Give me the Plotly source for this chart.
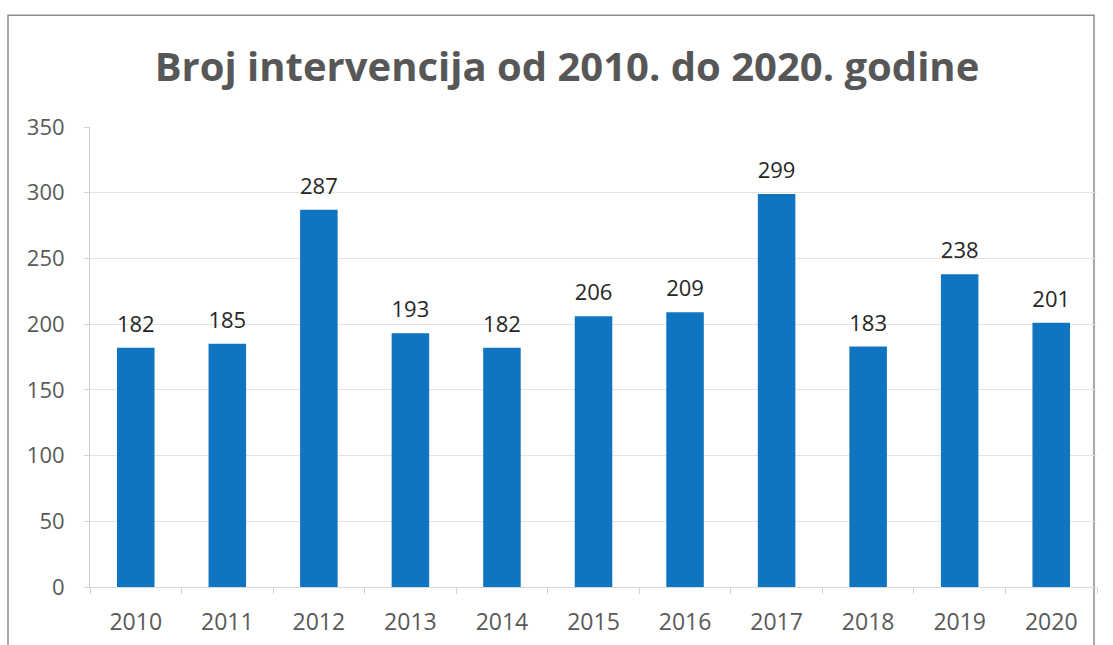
import plotly.graph_objects as go

years = ["2010", "2011", "2012", "2013", "2014", "2015", "2016", "2017", "2018", "2019", "2020"]
counts = [182, 185, 287, 193, 182, 206, 209, 299, 183, 238, 201]
y_ticks = [0, 50, 100, 150, 200, 250, 300, 350]

fig = go.Figure()
fig.add_trace(go.Bar(
    x=years, y=counts,
    marker=dict(color="#0F75C1", line=dict(width=0)),
    hoverinfo="x+y",
))
fig.add_trace(go.Scatter(
    x=years, y=counts, mode="markers+text",
    text=[str(v) for v in counts], textposition="top center",
    marker=dict(size=15, opacity=0),
    textfont=dict(family="Open Sans", size=22, color="#262626"),
    hoverinfo="skip", cliponaxis=False,
))

fig.update_layout(
    width=1113, height=645,
    margin=dict(l=90, r=16, t=127, b=58),
    paper_bgcolor="white", plot_bgcolor="white",
    bargap=0.59,
    showlegend=False,
    title=dict(
        text="<b>Broj intervencija od 2010. do 2020. godine</b>",
        x=567/1113, xanchor="center", y=1-67/645, yanchor="middle",
        font=dict(family="Open Sans", size=40, color="#575757"),
    ),
    xaxis=dict(
        type="category", range=[-0.5, len(years) - 0.5], automargin=False,
        tickfont=dict(family="Open Sans", size=23, color="#595959"),
        showline=True, linecolor="#d9d9d9", linewidth=1,
        ticks="outside", tickson="boundaries", ticklen=6, tickcolor="#d0d0d0",
        showgrid=False, ticklabelstandoff=14,
    ),
    yaxis=dict(
        range=[0, 350], tickvals=y_ticks, automargin=False,
        tickfont=dict(family="Open Sans", size=22, color="#595959"),
        showgrid=True, gridcolor="#e3e3e3", gridwidth=1,
        showline=True, linecolor="#d0d0d0", linewidth=1,
        ticks="outside", ticklen=5, tickcolor="#d0d0d0",
        ticklabelstandoff=15, zeroline=False,
    ),
    shapes=[dict(
        type="rect", xref="paper", yref="paper",
        x0=-82/1007, x1=1004/1007, y0=-0.5, y1=(586.7-15)/460,
        line=dict(color="#8c8c8c", width=1.5), fillcolor="rgba(0,0,0,0)",
        layer="below",
    )],
)

fig.write_html("out.html", config={"displayModeBar": False},
               post_script="document.body.style.margin='0';")
